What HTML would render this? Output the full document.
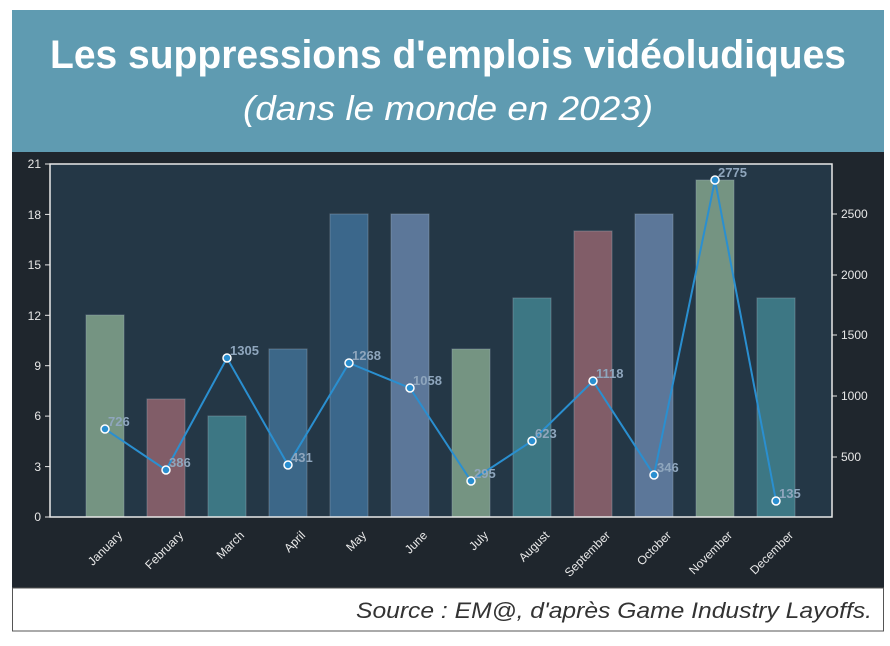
<!DOCTYPE html>
<html><head><meta charset="utf-8"><style>
body{margin:0;width:890px;height:642px;background:#fff;overflow:hidden;font-family:"DejaVu Sans","Liberation Sans",sans-serif}
</style></head><body>
<svg width="890" height="642" xmlns="http://www.w3.org/2000/svg">
<rect x="12" y="10" width="872" height="142" fill="#5f9bb1"/>
<text x="448" y="68" text-anchor="middle" font-family="Liberation Sans, sans-serif" font-weight="bold" font-size="40" fill="#fff" textLength="796" lengthAdjust="spacingAndGlyphs">Les suppressions d'emplois vidéoludiques</text>
<text x="448" y="120" text-anchor="middle" font-family="Liberation Sans, sans-serif" font-style="italic" font-size="34" fill="#fff" textLength="410" lengthAdjust="spacingAndGlyphs">(dans le monde en 2023)</text>
<rect x="12" y="152" width="872" height="436" fill="#1f262d"/>
<rect x="12.5" y="588" width="871" height="43" fill="#fff" stroke="#555"/>
<text x="872" y="618" text-anchor="end" font-family="Liberation Sans, sans-serif" font-style="italic" font-size="22" fill="#333" textLength="516" lengthAdjust="spacingAndGlyphs">Source : EM@, d'après Game Industry Layoffs.</text>
<rect x="50" y="164" width="782" height="353" fill="#243746"/>
<g opacity="0.95" stroke="#9fb3c0" stroke-opacity="0.4" stroke-width="1">
<rect x="86" y="315" width="38" height="202" fill="#7a9a86"/>
<rect x="147" y="399" width="38" height="118" fill="#86606a"/>
<rect x="208" y="416" width="38" height="101" fill="#3f7b88"/>
<rect x="269" y="349" width="38" height="168" fill="#3e6a8c"/>
<rect x="330" y="214" width="38" height="303" fill="#3d6a8f"/>
<rect x="391" y="214" width="38" height="303" fill="#5f7b9e"/>
<rect x="452" y="349" width="38" height="168" fill="#7a9a86"/>
<rect x="513" y="298" width="38" height="219" fill="#3f7b88"/>
<rect x="574" y="231" width="38" height="286" fill="#86606a"/>
<rect x="635" y="214" width="38" height="303" fill="#5f7b9e"/>
<rect x="696" y="180" width="38" height="337" fill="#7a9a86"/>
<rect x="757" y="298" width="38" height="219" fill="#3f7b88"/>
</g>
<polyline fill="none" stroke="#2a8fd0" stroke-width="2" points="105,429 166,470 227,358 288,465 349,363 410,388 471,481 532,441 593,381 654,475 715,180 776,501"/>
<g fill="#2a8fd0" stroke="#fff" stroke-width="1.5">
<circle cx="105" cy="429" r="4"/><circle cx="166" cy="470" r="4"/><circle cx="227" cy="358" r="4"/><circle cx="288" cy="465" r="4"/><circle cx="349" cy="363" r="4"/><circle cx="410" cy="388" r="4"/><circle cx="471" cy="481" r="4"/><circle cx="532" cy="441" r="4"/><circle cx="593" cy="381" r="4"/><circle cx="654" cy="475" r="4"/><circle cx="715" cy="180" r="4"/><circle cx="776" cy="501" r="4"/>
</g>
<g fill="#8fa6bd" font-size="13" font-weight="bold" font-family="Liberation Sans, sans-serif">
<text x="108" y="426">726</text><text x="169" y="467">386</text><text x="230" y="355">1305</text><text x="291" y="462">431</text><text x="352" y="360">1268</text><text x="413" y="385">1058</text><text x="474" y="478">295</text><text x="535" y="438">623</text><text x="596" y="378">1118</text><text x="657" y="472">346</text><text x="718" y="177">2775</text><text x="779" y="498">135</text>
</g>
<rect x="50" y="164" width="782" height="353" fill="none" stroke="#e8e8e8" stroke-width="1.5"/>
<g stroke="#e8e8e8" stroke-width="1">
<line x1="45" y1="164" x2="50" y2="164"/><line x1="45" y1="214.4" x2="50" y2="214.4"/><line x1="45" y1="264.9" x2="50" y2="264.9"/><line x1="45" y1="315.3" x2="50" y2="315.3"/><line x1="45" y1="365.7" x2="50" y2="365.7"/><line x1="45" y1="416.1" x2="50" y2="416.1"/><line x1="45" y1="466.6" x2="50" y2="466.6"/><line x1="45" y1="517" x2="50" y2="517"/>
<line x1="832" y1="457" x2="837" y2="457"/><line x1="832" y1="396" x2="837" y2="396"/><line x1="832" y1="335" x2="837" y2="335"/><line x1="832" y1="275" x2="837" y2="275"/><line x1="832" y1="214" x2="837" y2="214"/>
</g>
<g fill="#e8e8e8" font-size="12" font-family="Liberation Sans, sans-serif" text-anchor="end">
<text x="41" y="168">21</text><text x="41" y="219">18</text><text x="41" y="269">15</text><text x="41" y="320">12</text><text x="41" y="370">9</text><text x="41" y="420">6</text><text x="41" y="471">3</text><text x="41" y="521">0</text>
</g>
<g fill="#e8e8e8" font-size="12" font-family="Liberation Sans, sans-serif">
<text x="841" y="461">500</text><text x="841" y="400">1000</text><text x="841" y="339">1500</text><text x="841" y="279">2000</text><text x="841" y="218">2500</text>
</g>
<g fill="#e8e8e8" font-size="12" font-family="Liberation Sans, sans-serif" text-anchor="end">
<text transform="translate(123,536) rotate(-45)">January</text>
<text transform="translate(184,536) rotate(-45)">February</text>
<text transform="translate(245,536) rotate(-45)">March</text>
<text transform="translate(306,536) rotate(-45)">April</text>
<text transform="translate(367,536) rotate(-45)">May</text>
<text transform="translate(428,536) rotate(-45)">June</text>
<text transform="translate(489,536) rotate(-45)">July</text>
<text transform="translate(550,536) rotate(-45)">August</text>
<text transform="translate(611,536) rotate(-45)">September</text>
<text transform="translate(672,536) rotate(-45)">October</text>
<text transform="translate(733,536) rotate(-45)">November</text>
<text transform="translate(794,536) rotate(-45)">December</text>
</g>
</svg>
</body></html>
